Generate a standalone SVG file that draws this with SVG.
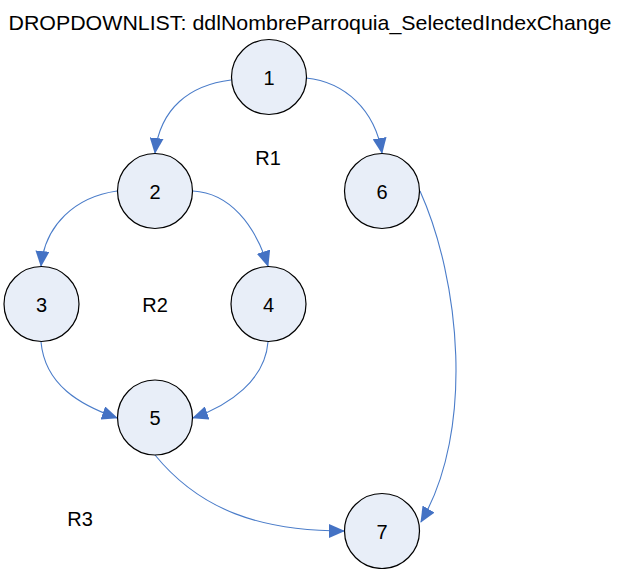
<svg xmlns="http://www.w3.org/2000/svg" width="619" height="569" viewBox="0 0 619 569">
<style>
.n circle{fill:#E8EEF8;stroke:#000;stroke-width:1.2}
text{font-family:"Liberation Sans",Arial,sans-serif;font-size:20px;fill:#000;text-anchor:middle}
.e path{fill:none;stroke:#4A7CC9;stroke-width:1.1;marker-end:url(#a)}
</style>
<defs>
<marker id="a" markerUnits="userSpaceOnUse" markerWidth="16" markerHeight="14" viewBox="0 0 16 14" refX="15" refY="7" orient="auto">
<path d="M0,0 L16,7 L0,14 Z" fill="#4472C4"/>
</marker>
</defs>
<rect width="619" height="569" fill="#fff"/>
<text x="310" y="30" style="font-size:21px" textLength="603" lengthAdjust="spacingAndGlyphs">DROPDOWNLIST: ddlNombreParroquia_SelectedIndexChange</text>
<g class="e" id="edges">
<path d="M231,80 C190,85 160,108 155,153"/>
<path d="M306,78 C345,82 375,110 382,153"/>
<path d="M117,191 C75,197 45,225 41,266"/>
<path d="M193,191 C230,193 255,225 268,266"/>
<path d="M41,342 C45,385 80,405 117,418"/>
<path d="M268,342 C265,380 230,405 193,418"/>
<path d="M155,455 C200,510 260,531 344,531"/>
<path d="M420,191 C460,280 475,430 421,522"/>
</g>
<g class="n" id="n1"><circle cx="269" cy="77" r="37.5"/><text x="269" y="84.5">1</text></g>
<g class="n" id="n2"><circle cx="155" cy="191" r="37.5"/><text x="155" y="198.5">2</text></g>
<g class="n" id="n3"><circle cx="41.5" cy="304" r="37.5"/><text x="41.5" y="311.5">3</text></g>
<g class="n" id="n4"><circle cx="268.5" cy="304" r="37.5"/><text x="268.5" y="311.5">4</text></g>
<g class="n" id="n5"><circle cx="155" cy="417.5" r="37.5"/><text x="155" y="425">5</text></g>
<g class="n" id="n6"><circle cx="382" cy="191" r="37.5"/><text x="382" y="198.5">6</text></g>
<g class="n" id="n7"><circle cx="382" cy="531" r="37.5"/><text x="382" y="538.5">7</text></g>
<text x="268" y="165">R1</text>
<text x="155" y="312">R2</text>
<text x="80" y="526">R3</text>
</svg>
